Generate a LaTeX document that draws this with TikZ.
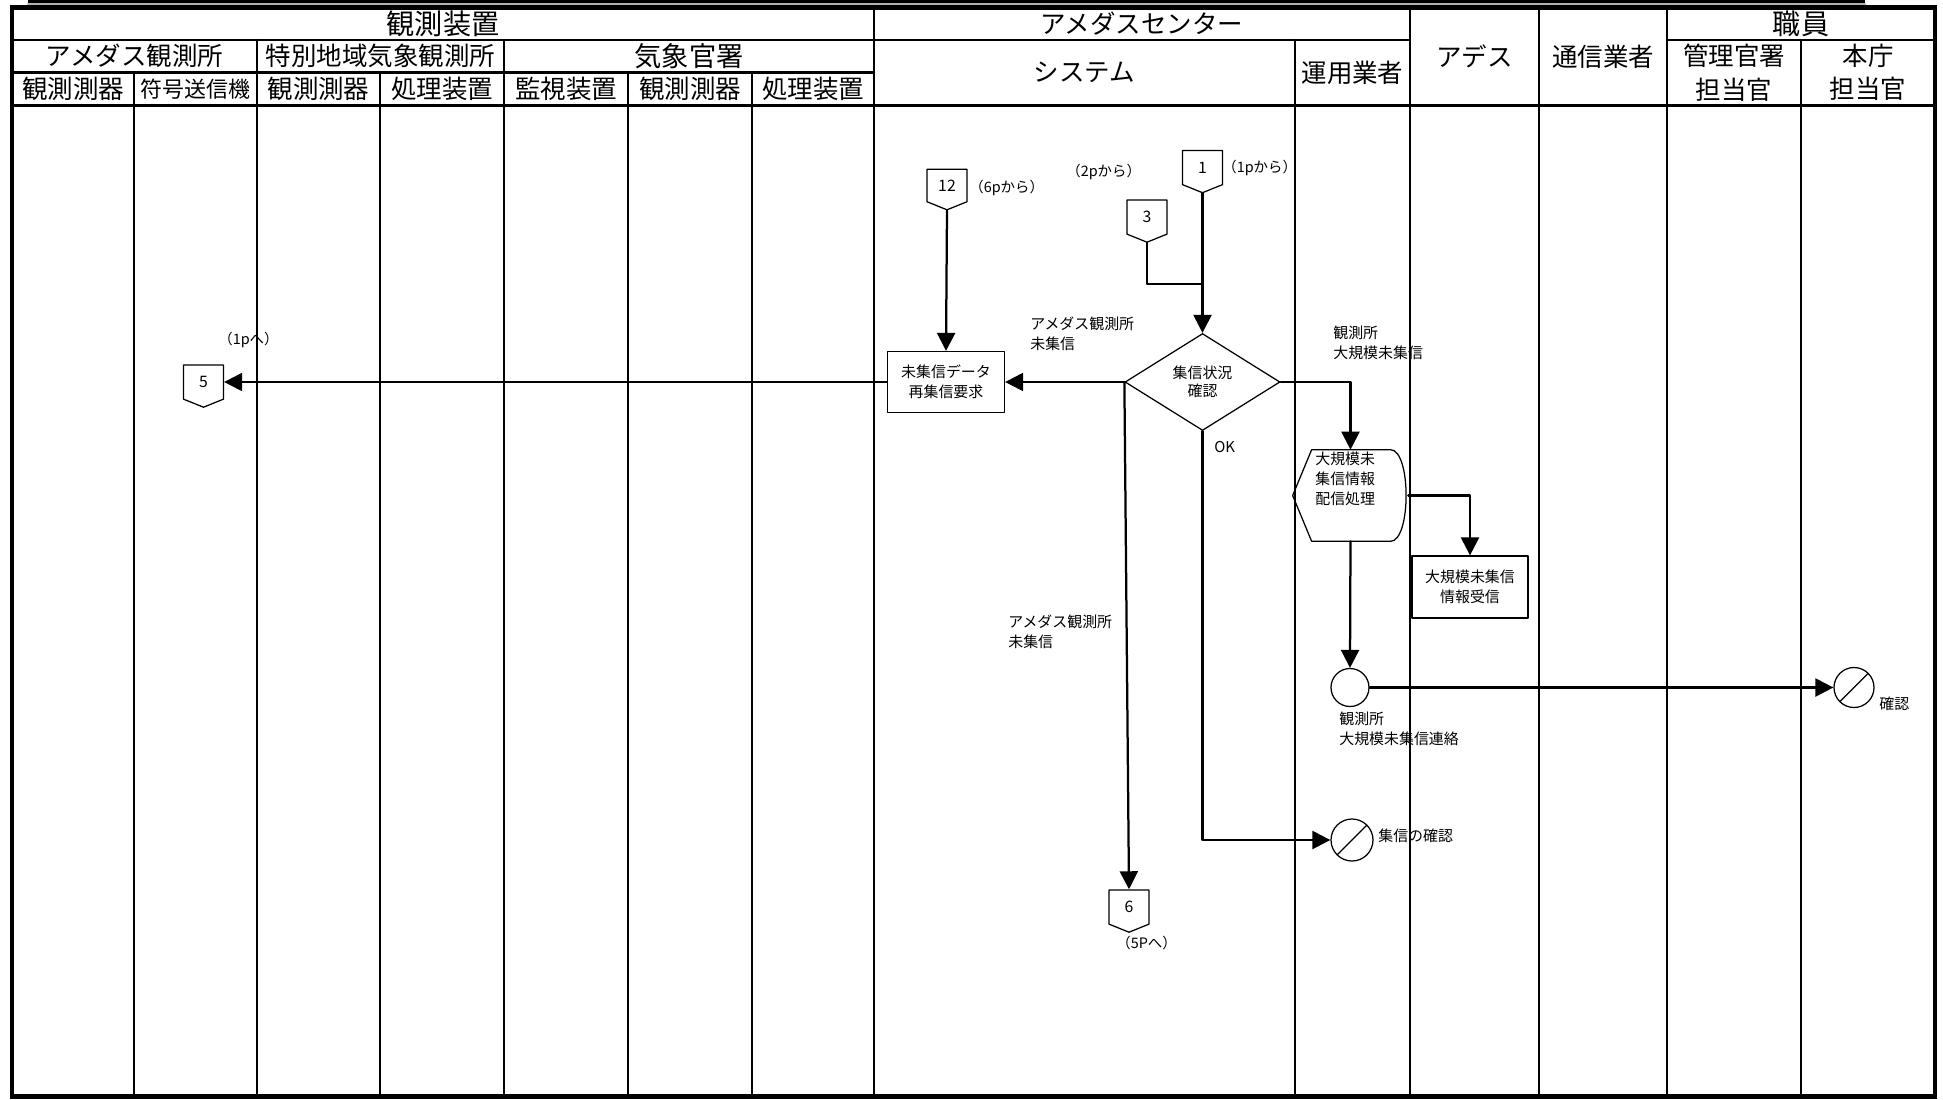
\documentclass[tikz,border=0pt]{standalone}
\usepackage{fontspec}
\setmainfont{Noto Sans CJK JP}
\usetikzlibrary{arrows.meta,shapes.geometric,shapes.symbols}

\begin{document}
\begin{tikzpicture}[x=0.2mm, y=-0.2mm, line cap=round, line join=round, font=\fontsize{8.5}{11.4}\selectfont, >={Triangle[length=3.6mm,width=3.6mm]}]
	\tikzset{
		hd/.style={font=\fontsize{14.5}{18.8}\selectfont, inner sep=0pt, align=center},
		grid line/.style={line width=0.45mm},
		flow/.style={line width=0.45mm},
		offpage/.style={draw, line width=0.25mm, shape=signal, signal to=south, signal pointer angle=136, minimum width=8mm, minimum height=7.2mm, inner sep=0pt, font=\fontsize{9}{10}\selectfont},
		proc/.style={draw, line width=0.25mm, rectangle, minimum width=23.4mm, minimum height=12.2mm, align=center, inner sep=0pt},
		decide/.style={draw, line width=0.25mm, diamond, minimum width=31mm, minimum height=19.4mm, align=center, inner sep=0pt, font=\fontsize{8.5}{10.4}\selectfont},
		cont/.style={draw, line width=0.25mm, circle, minimum size=7.6mm, inner sep=0pt},
		stopmark/.style={cont, path picture={\draw[line width=0.25mm] (path picture bounding box.south west) -- (path picture bounding box.north east);}},
		note/.style={align=left, inner sep=0pt, anchor=west},
		pagenote/.style={inner sep=0pt, anchor=west, font=\fontsize{8.2}{9}\selectfont}
	}
	\useasboundingbox (0,0) rectangle (1943,1099);

	% frame and lanes
	\draw[gray!60, line width=0.4mm] (28,3.7) -- (1865,3.7);
	\draw[line width=0.55mm, line cap=butt] (28,1.3) -- (1865,1.3);
	\draw[line width=0.9mm, line join=miter] (12,7.5) rectangle (1935,1096.5);
	\draw[grid line] (12,40) -- (1410,40) (1667,40) -- (1935,40);
	\draw[grid line] (12,72.5) -- (874,72.5);
	\draw[grid line] (12,105.5) -- (1935,105.5);
	\foreach \x in {874,1410,1539,1667} \draw[grid line] (\x,7.5) -- (\x,1096.5);
	\foreach \x in {257,504,1295,1801} \draw[grid line] (\x,40) -- (\x,1096.5);
	\foreach \x in {134,380,628,752} \draw[grid line] (\x,72.5) -- (\x,1096.5);

	% headers
	\node[hd, font=\fontsize{16}{18}\selectfont] (hObs) at (443,23.75) {観測装置};
	\node[hd] (hCtr) at (1142,23.75) {アメダスセンター};
	\node[hd, font=\fontsize{16}{18}\selectfont] (hStaff) at (1801,23.75) {職員};
	\node[hd] (hAdes) at (1474.5,56.5) {アデス};
	\node[hd] (hTel) at (1603,56.5) {通信業者};
	\node[hd] (hAmd) at (134.5,56.25) {アメダス観測所};
	\node[hd] (hSp) at (380.5,56.25) {特別地域気象観測所};
	\node[hd, font=\fontsize{15.5}{18}\selectfont] (hJma) at (689,56.25) {気象官署};
	\node[hd] (hSys) at (1084.5,72.75) {システム};
	\node[hd] (hOp) at (1352.5,72.75) {運用業者};
	\node[hd] (hMgr) at (1734,72.75) {管理官署\\担当官};
	\node[hd] (hHq) at (1868,72.75) {本庁\\担当官};
	\foreach \x/\t [count=\i] in {73/観測測器, 318.5/観測測器, 442/処理装置, 566/監視装置, 690/観測測器, 813/処理装置}
		\node[hd] (r\i) at (\x,89) {\t};
	\node[hd, font=\fontsize{12.5}{15}\selectfont] (r0) at (195.5,89) {符号送信機};

	% flow
	\node[offpage] (c12) at (947,185.5) {12};
	\node[offpage] (c1) at (1202.5,167.5) {1};
	\node[offpage] (c3) at (1147,217) {3};
	\node[offpage] (c6) at (1129,907) {6};
	\node[offpage] (c5) at (203.5,382) {5};

	\node[decide] (chk) at (1202.5,382) {集信状況\\確認};
	\node[proc] (req) at (946,382) {未集信データ\\再集信要求};

	\node[minimum width=23mm, minimum height=18.2mm, inner sep=0pt] (disp) at (1350.5,495.5) {};
	\draw[line width=0.25mm] (disp.west) -- ([xshift=3.8mm]disp.north west) -- ([xshift=-3.6mm]disp.north east)
		.. controls ([xshift=0.6mm]disp.north east) and ([xshift=0.6mm]disp.south east) .. ([xshift=-3.6mm]disp.south east)
		-- ([xshift=3.8mm]disp.south west) -- cycle;
	\node[note, anchor=north west] (dispTxt) at (1315,452) {大規模未\\集信情報\\配信処理};

	\node[proc, minimum width=23.2mm, minimum height=12.4mm] (recv) at (1470,587) {大規模未集信\\情報受信};
	\node[cont] (junc) at (1350,687.5) {};
	\node[stopmark, minimum size=8.4mm] (conf) at (1352,840) {};
	\node[stopmark, minimum size=8mm] (conf2) at (1854,687.5) {};

	\coordinate (j3) at (c1.south |- 0,284);
	\draw[flow] (c3.south) |- (j3);
	\draw[flow,->] (c1.south) -- (chk.north);
	\draw[flow,->] (c12.south) -- (req.north);
	\draw[flow,->] (chk.west) -- (req.east);
	\draw[flow,->] (req.west) -- (req.west -| c5.east);
	\draw[flow,->] (chk.west) -- (c6.north);
	\draw[flow,->] (chk.south) |- (conf.west);
	\draw[flow,->] (chk.east) -| (disp.north);
	\draw[flow,->] (disp.east) -| (recv.north);
	\draw[flow,->] (disp.south) -- (junc.north);
	\draw[flow,->] (junc.east) -- (conf2.west);

	% labels
	\node[pagenote] (p6) at (969,188) {（6pから）};
	\node[pagenote] (p1) at (1222,168) {（1pから）};
	\node[pagenote] (p2) at (1066,172) {（2pから）};
	\node[pagenote] (p1b) at (218,340) {（1pへ）};
	\node[pagenote] (p5) at (1116,943) {（5Pへ）};
	\node[note] (lAmd1) at (1030,334) {アメダス観測所\\未集信};
	\node[note] (lAmd2) at (1008,632) {アメダス観測所\\未集信};
	\node[note] (lBig) at (1333,343) {観測所\\大規模未集信};
	\node[note] (lOK) at (1214,447) {OK};
	\node[note] (lCall) at (1339,728.5) {観測所\\大規模未集信連絡};
	\node[note] (lConf) at (1378,836) {集信の確認};
	\node[note] (lConf2) at (1879,704) {確認};
\end{tikzpicture}
\end{document}
